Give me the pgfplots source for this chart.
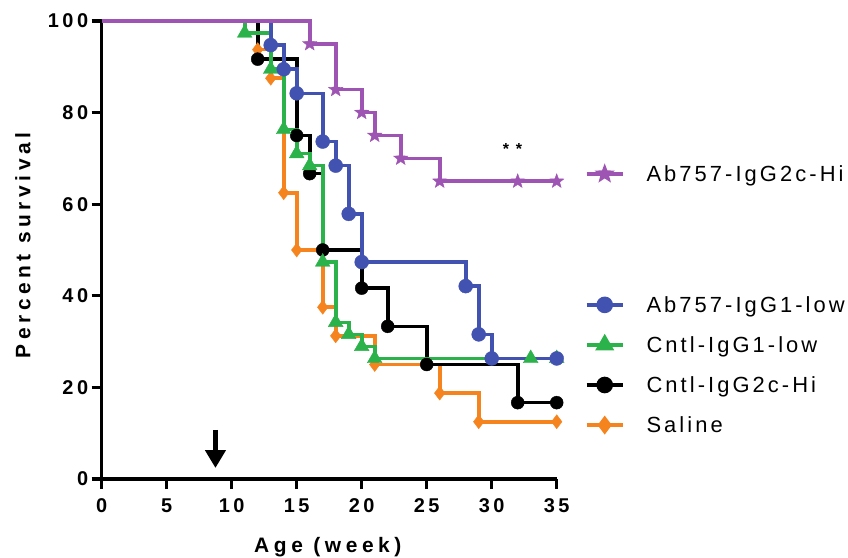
\documentclass[border=0pt]{standalone}
\usepackage{fontspec}
\setmainfont{Liberation Sans}[LetterSpace=14]
\newfontfamily\labfont{Liberation Sans}[LetterSpace=22]
\newfontfamily\tickfont{Liberation Sans}[LetterSpace=18]
\usepackage{pgfplots}
\pgfplotsset{compat=1.18}
\usepackage{pgfplotstable}
\usetikzlibrary{arrows.meta}

\definecolor{cpurple}{RGB}{158,84,178}
\definecolor{cblue}{RGB}{66,82,176}
\definecolor{cgreen}{RGB}{44,178,74}
\definecolor{corange}{RGB}{246,132,30}

\pgfdeclareplotmark{fstar}{%
  \pgfpathmoveto{\pgfpointpolar{90}{\pgfplotmarksize}}%
  \pgfpathlineto{\pgfpointpolar{126}{0.42\pgfplotmarksize}}%
  \pgfpathlineto{\pgfpointpolar{162}{\pgfplotmarksize}}%
  \pgfpathlineto{\pgfpointpolar{198}{0.42\pgfplotmarksize}}%
  \pgfpathlineto{\pgfpointpolar{234}{\pgfplotmarksize}}%
  \pgfpathlineto{\pgfpointpolar{270}{0.42\pgfplotmarksize}}%
  \pgfpathlineto{\pgfpointpolar{306}{\pgfplotmarksize}}%
  \pgfpathlineto{\pgfpointpolar{342}{0.42\pgfplotmarksize}}%
  \pgfpathlineto{\pgfpointpolar{18}{\pgfplotmarksize}}%
  \pgfpathlineto{\pgfpointpolar{54}{0.42\pgfplotmarksize}}%
  \pgfpathclose
  \pgfusepathqfillstroke
}

% time (week), percent survival
\pgfplotstableread{
x y
0 100
16 95
18 85
20 80
21 75
23 70
26 65
32 65
35 65
}\tpurple
\pgfplotstableread{
x y
0 100
13 94.74
14 89.47
15 84.21
17 73.68
18 68.42
19 57.89
20 47.37
28 42.11
29 31.58
30 26.32
35 26.32
}\tblue
\pgfplotstableread{
x y
0 100
11 97.37
13 89.47
14 76.32
15 71.05
16 68.42
17 47.37
18 34.21
19 31.58
20 28.95
21 26.32
33 26.32
35 26.32
}\tgreen
\pgfplotstableread{
x y
0 100
12 91.67
15 75
16 66.67
17 50
20 41.67
22 33.33
25 25
32 16.67
35 16.67
}\tblack
\pgfplotstableread{
x y
0 100
12 93.75
13 87.5
14 62.5
15 50
17 37.5
18 31.25
21 25
26 18.75
29 12.5
35 12.5
}\torange

\pgfplotsset{
  sline/.style={const plot, no markers, line width=3.6bp},
  smark/.style={only marks, skip coords between index={0}{1}},
  sorange/.style={color=corange, mark=diamond*, mark size=7bp},
  sblack/.style={color=black, mark=*, mark size=6.5bp},
  sgreen/.style={color=cgreen, mark=triangle*, mark size=8.5bp},
  sblue/.style={color=cblue, mark=*, mark size=7bp},
  spurple/.style={color=cpurple, mark=fstar, mark size=7.5bp},
}

\begin{document}
\begin{tikzpicture}
\useasboundingbox (-101.7bp,-79bp) rectangle (746.3bp,479bp);
\begin{axis}[
  at={(0,0)}, anchor=south west,
  scale only axis, width=455bp, height=458bp,
  xmin=0, xmax=35, ymin=0, ymax=100,
  clip=false,
  axis lines=left,
  axis line style={line width=3.6bp, -},
  tick align=outside,
  major tick length=10bp,
  tick style={line width=3.2bp, black},
  xtick={0,5,...,35}, ytick={0,20,...,100},
  /pgf/number format/assume math mode=true,
  ticklabel style={font=\tickfont\bfseries\fontsize{20}{24}\selectfont},
  xticklabel style={yshift=-6bp},
  xlabel={Age (week)}, ylabel={Percent survival},
  every axis x label/.style={at={(axis description cs:0.497,-0.148)}, anchor=center,
    font=\labfont\bfseries\fontsize{21}{25}\selectfont},
  every axis y label/.style={at={(axis description cs:-0.173,0.51)}, rotate=90, anchor=center,
    font=\labfont\bfseries\fontsize{21}{25}\selectfont},
  legend style={draw=none, fill=none, at={(1.055,0.666)}, anchor=west,
    font=\fontsize{22}{26}\selectfont,
    /tikz/every odd column/.append style={column sep=20bp}},
  legend image code/.code={\draw[#1, mark repeat=2, mark phase=2] plot coordinates {(0bp,0bp) (18bp,0bp) (36bp,0bp)};},
]
\addplot[sline, sorange, forget plot] table {\torange};
\addplot[smark, sorange, forget plot] table {\torange};
\addplot[sline, sblack, forget plot] table {\tblack};
\addplot[smark, sblack, forget plot] table {\tblack};
\addplot[sline, sgreen, forget plot] table {\tgreen};
\addplot[smark, sgreen, forget plot] table {\tgreen};
\addplot[sline, sblue, forget plot] table {\tblue};
\addplot[smark, sblue, forget plot] table {\tblue};
\addplot[sline, spurple, forget plot] table {\tpurple};
\addplot[smark, spurple, forget plot] table {\tpurple};
\addlegendimage{spurple, line width=3.6bp, mark size=5.5bp}
\addlegendentry{Ab757-IgG2c-Hi}
\node[font=\bfseries\fontsize{16}{18}\selectfont] at (axis cs:31.6,72) {* *};
\draw[-{Triangle[length=18bp,width=20bp]}, line width=5bp] (axis cs:8.75,10.7) -- (axis cs:8.75,2.4);
\end{axis}
\begin{axis}[
  at={(0,0)}, anchor=south west,
  scale only axis, width=455bp, height=458bp,
  xmin=0, xmax=35, ymin=0, ymax=100,
  hide axis,
  legend style={draw=none, fill=none, at={(1.055,0.249)}, anchor=west,
    font=\fontsize{22}{26}\selectfont, row sep=18.7bp,
    /tikz/every odd column/.append style={column sep=20bp}},
  legend cell align=left,
  legend image code/.code={\draw[#1, mark repeat=2, mark phase=2] plot coordinates {(0bp,0bp) (18bp,0bp) (36bp,0bp)};},
]
\addlegendimage{sblue, line width=3.6bp, mark size=6.5bp}
\addlegendentry{Ab757-IgG1-low}
\addlegendimage{sgreen, line width=3.6bp, mark size=7.5bp}
\addlegendentry{Cntl-IgG1-low}
\addlegendimage{sblack, line width=3.6bp, mark size=6.5bp}
\addlegendentry{Cntl-IgG2c-Hi}
\addlegendimage{sorange, line width=3.6bp, mark size=6.5bp}
\addlegendentry{Saline}
\end{axis}
\end{tikzpicture}
\end{document}
